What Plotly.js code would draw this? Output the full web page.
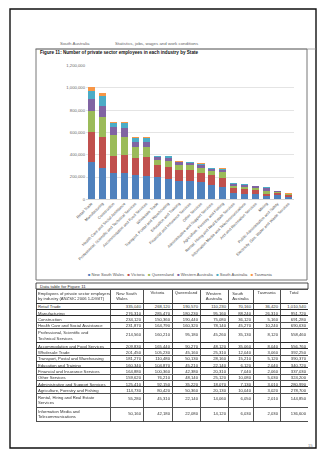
<!DOCTYPE html>
<html>
<head>
<meta charset="utf-8">
<script src="https://cdn.plot.ly/plotly-3.0.1.min.js"></script>
<style>
html,body{margin:0;padding:0;background:#fff;overflow:hidden;}
#wrap{position:relative;width:317px;height:457px;overflow:hidden;}
#chart{position:absolute;left:0;top:0;width:317px;height:457px;}
#tbl{position:absolute;left:36px;top:289px;transform-origin:0 0;}
</style>
</head>
<body>
<div id="wrap"><div id="chart"></div><div id="tbl"></div></div>
<script>
// ---- data ----
var categories = [
  "Retail Trade", "Manufacturing", "Construction", "Health Care and Social Assistance",
  "Professional, Scientific and Technical Services", "Accommodation and Food Services",
  "Wholesale Trade", "Transport, Postal and Warehousing", "Education and Training",
  "Financial and Insurance Services", "Other Services", "Administrative and Support Services",
  "Agriculture, Forestry and Fishing", "Rental, Hiring and Real Estate Services",
  "Information Media and Telecommunications", "Arts and Recreation Services", "Mining",
  "Public Administration and Safety", "Electricity, Gas, Water and Waste Services"
];
var seriesNames = ["New South Wales", "Victoria", "Queensland", "Western Australia", "South Australia", "Tasmania"];
var nsw = [335040, 276310, 234120, 231870, 214560, 209830, 201450, 181270, 160340, 164880, 159620, 125410, 114730, 55280, 50160, 45320, 30410, 35170, 20340];
var vic = [268120, 285470, 150360, 164790, 160210, 165440, 105230, 110480, 104870, 100360, 76210, 92150, 80420, 45310, 42180, 38240, 15120, 20240, 15080];
var qld = [190570, 180230, 190440, 160320, 95180, 90270, 45160, 50130, 45210, 42380, 48140, 35220, 50360, 22140, 22080, 20110, 25330, 10120, 8060];
var wa  = [110230, 95160, 75080, 78140, 45260, 48120, 25310, 28160, 22140, 20310, 25120, 18070, 20130, 14060, 14120, 12080, 28140, 6040, 5020];
var sa  = [70160, 88240, 36120, 45270, 35130, 35060, 12040, 15210, 6120, 7040, 10080, 7130, 10040, 6050, 6030, 5040, 7060, 3020, 3010];
var tas = [36420, 26310, 5160, 10240, 8120, 8040, 3060, 5120, 2040, 2060, 5030, 3010, 3020, 2010, 2030, 1020, 3040, 1010, 1020];
var yTickVals = [0, 200000, 400000, 600000, 800000, 1000000, 1200000];
var tableRowLabels = [
  "Retail Trade", "Manufacturing", "Construction", "Health Care and Social Assistance",
  "Professional, Scientific and<br>Technical Services", "Accommodation and Food Services",
  "Wholesale Trade", "Transport, Postal and Warehousing", "Education and Training",
  "Financial and Insurance Services", "Other Services", "Administrative and Support Services",
  "Agriculture, Forestry and Fishing", "Rental, Hiring and Real Estate<br>Services",
  "Information Media and<br>Telecommunications"
];
var tableHeader = ["Employees of private sector employers<br>by industry (ANZSIC 2006 1-DIGIT)", "New South<br>Wales", "Victoria", "Queensland", "Western<br>Australia", "South<br>Australia", "Tasmania", "Total"];
var tableRows = 15;

// ---- build chart ----
var colors = ["#4F81BD", "#C0504D", "#9BBB59", "#8064A2", "#4BACC6", "#F79646"];
var allSeries = [nsw, vic, qld, wa, sa, tas];
var W = 317, H = 457;
function px(x) { return x / W; }
function py(y) { return 1 - y / H; }
var FONT = "Liberation Sans, Arial, sans-serif";

var traces = allSeries.map(function (vals, i) {
  return {
    type: "bar", x: categories, y: vals, name: seriesNames[i],
    marker: { color: colors[i], line: { width: 0 } },
    showlegend: false, hoverinfo: "skip"
  };
});

var legendText = seriesNames.map(function (n, i) {
  return '<span style="color:' + colors[i] + '">■</span> ' + n;
}).join("&nbsp;&nbsp;&nbsp;");

var layout = {
  width: W, height: H,
  margin: { l: 0, r: 0, t: 0, b: 0 },
  paper_bgcolor: "#fff", plot_bgcolor: "#fff",
  barmode: "stack", bargap: 0.35,
  showlegend: false,
  font: { family: FONT, color: "#555" },
  xaxis: {
    domain: [px(86), px(294)], type: "category",
    tickangle: -45, tickfont: { size: 3.9, color: "#555", family: FONT },
    showgrid: false, showline: true, linecolor: "#bbb", linewidth: 0.6, ticks: "", automargin: false
  },
  yaxis: {
    domain: [py(199.3), py(65.5)], range: [0, 1200000],
    tickvals: yTickVals, tickformat: ",", tickfont: { size: 4.2, color: "#666", family: FONT },
    showgrid: true, gridcolor: "#d9d9d9", gridwidth: 0.7, zeroline: false, showline: false, ticks: "", automargin: false
  },
  shapes: [
    { type: "rect", xref: "paper", yref: "paper", x0: px(10), x1: px(316), y0: py(448), y1: py(9), line: { color: "#111", width: 1.4 } },
    { type: "line", xref: "paper", yref: "paper", x0: px(35), x1: px(316), y0: py(49), y1: py(49), line: { color: "#888", width: 0.7 } },
    { type: "rect", xref: "paper", yref: "paper", x0: px(36), x1: px(307), y0: py(280), y1: py(49), line: { color: "#777", width: 1 } },
    { type: "rect", xref: "paper", yref: "paper", x0: px(36), x1: px(308), y0: py(289), y1: py(283), line: { color: "#222", width: 0.8 } }
  ],
  annotations: [
    { xref: "paper", yref: "paper", x: px(58), y: py(44), xanchor: "left", yanchor: "middle", showarrow: false,
      text: "South Australia", font: { size: 4.4, color: "#666", family: FONT } },
    { xref: "paper", yref: "paper", x: px(113), y: py(44), xanchor: "left", yanchor: "middle", showarrow: false,
      text: "Statistics, jobs, wages and work conditions", font: { size: 4.4, color: "#666", family: FONT } },
    { xref: "paper", yref: "paper", x: px(38), y: py(52.5), xanchor: "left", yanchor: "middle", showarrow: false,
      text: "<b>Figure 11: Number of private sector employees in each industry by State</b>", font: { size: 4.6, color: "#111", family: FONT } },
    { xref: "paper", yref: "paper", x: px(180), y: py(274), xanchor: "center", yanchor: "middle", showarrow: false,
      text: legendText, font: { size: 4.1, color: "#555", family: FONT } },
    { xref: "paper", yref: "paper", x: px(38), y: py(286), xanchor: "left", yanchor: "middle", showarrow: false,
      text: "Data table for Figure 11", font: { size: 4.4, color: "#333", family: FONT } },
    { xref: "paper", yref: "paper", x: px(310), y: py(445), xanchor: "center", yanchor: "middle", showarrow: false,
      text: "15", font: { size: 4.2, color: "#888", family: FONT } }
  ]
};

Plotly.newPlot("chart", traces, layout, { staticPlot: true, displayModeBar: false });

// ---- build table (rendered at S x, then scaled down) ----
var S = 4;
var TW = 272, TH = 134;
function nb(s) { return s.replace(/ /g, "\u00A0"); }
var labelRows = tableRowLabels.slice(0, tableRows);
function fmtRow(v, k) {
  var s = v.toLocaleString("en-US");
  return labelRows[k].indexOf("<br>") >= 0 ? "<br>" + s : s;
}
var totals = categories.map(function (c, k) {
  return allSeries.reduce(function (s, arr) { return s + arr[k]; }, 0);
});
var cellCols = [labelRows.map(nb)];
allSeries.forEach(function (arr) { cellCols.push(arr.slice(0, tableRows).map(fmtRow)); });
cellCols.push(totals.slice(0, tableRows).map(fmtRow));

var tableTrace = {
  type: "table",
  domain: { x: [0, 1], y: [0, 1] },
  columnwidth: [74, 33, 29, 28, 28, 25, 27, 28],
  header: {
    values: tableHeader.map(nb), height: 50,
    align: ["left", "center", "center", "center", "center", "center", "center", "center"],
    line: { color: "#222", width: 0.8 * S }, fill: { color: "#fff" },
    font: { family: FONT, size: 4.2 * S, color: "#333" }
  },
  cells: {
    values: cellCols, height: 6.3 * S,
    align: ["left", "right", "right", "right", "right", "right", "right", "right"],
    line: { color: "#222", width: 0.8 * S }, fill: { color: "#fff" },
    font: { family: FONT, size: 4.2 * S, color: "#333" }
  }
};
var tdiv = document.getElementById("tbl");
tdiv.style.width = (TW * S) + "px";
tdiv.style.height = (TH * S) + "px";
Plotly.newPlot("tbl", [tableTrace], {
  width: TW * S, height: TH * S, margin: { l: 0, r: 0, t: 0, b: 0 },
  paper_bgcolor: "rgba(0,0,0,0)", font: { family: FONT }
}, { staticPlot: true, displayModeBar: false }).then(function () {
  tdiv.style.transform = "scale(" + (1 / S) + ")";
});
</script>
</body>
</html>
